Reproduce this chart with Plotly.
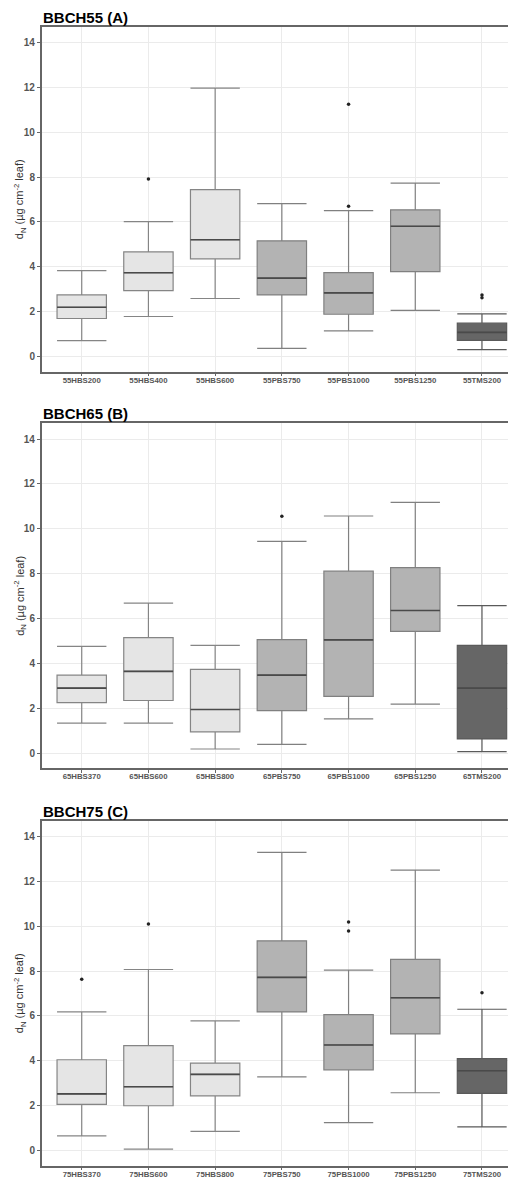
import plotly.graph_objects as go

# The page body adds an 8px margin, so the figure is drawn 8px smaller and
# all page-pixel positions are shifted by 8.
OFF = 8
W, H = 516 - OFF, 1178 - OFF

# ---------------- data ----------------
panel_titles = ["BBCH55 (A)", "BBCH65 (B)", "BBCH75 (C)"]

cats_A = ["55HBS200", "55HBS400", "55HBS600", "55PBS750", "55PBS1000", "55PBS1250", "55TMS200"]
q1_A = [1.70, 2.94, 4.36, 2.75, 1.89, 3.79, 0.73]
med_A = [2.20, 3.74, 5.21, 3.50, 2.84, 5.81, 1.08]
q3_A = [2.75, 4.67, 7.44, 5.16, 3.74, 6.54, 1.49]
lo_A = [0.71, 1.79, 2.59, 0.37, 1.15, 2.06, 0.31]
hi_A = [3.83, 6.02, 11.96, 6.82, 6.51, 7.73, 1.91]
out_x_A = ["55HBS400", "55PBS1000", "55PBS1000", "55TMS200", "55TMS200"]
out_y_A = [7.91, 11.24, 6.70, 2.75, 2.62]

cats_B = ["65HBS370", "65HBS600", "65HBS800", "65PBS750", "65PBS1000", "65PBS1250", "65TMS200"]
q1_B = [2.26, 2.35, 0.95, 1.90, 2.53, 5.43, 0.64]
med_B = [2.90, 3.65, 1.95, 3.48, 5.05, 6.36, 2.90]
q3_B = [3.48, 5.15, 3.74, 5.06, 8.11, 8.27, 4.81]
lo_B = [1.34, 1.34, 0.19, 0.40, 1.53, 2.19, 0.07]
hi_B = [4.76, 6.69, 4.81, 9.44, 10.57, 11.18, 6.58]
out_x_B = ["65PBS750"]
out_y_B = [10.56]

cats_C = ["75HBS370", "75HBS600", "75HBS800", "75PBS750", "75PBS1000", "75PBS1250", "75TMS200"]
q1_C = [2.06, 2.00, 2.44, 6.18, 3.60, 5.20, 2.55]
med_C = [2.53, 2.85, 3.40, 7.72, 4.71, 6.81, 3.56]
q3_C = [4.05, 4.68, 3.90, 9.35, 6.06, 8.52, 4.10]
lo_C = [0.66, 0.07, 0.86, 3.29, 1.25, 2.58, 1.06]
hi_C = [6.18, 8.07, 5.78, 13.29, 8.04, 12.50, 6.30]
out_x_C = ["75HBS370", "75HBS600", "75PBS1000", "75PBS1000", "75TMS200"]
out_y_C = [7.64, 10.10, 10.19, 9.79, 7.03]

group_idx = {"HBS": [0, 1, 2], "PBS": [3, 4, 5], "TMS": [6]}
group_fill = {"HBS": "#e5e5e5", "PBS": "#b3b3b3", "TMS": "#666666"}
group_line = {"HBS": "#858585", "PBS": "#808080", "TMS": "#5a5a5a"}

y_ticks = [0, 2, 4, 6, 8, 10, 12, 14]

panels = [
    (cats_A, q1_A, med_A, q3_A, lo_A, hi_A, out_x_A, out_y_A),
    (cats_B, q1_B, med_B, q3_B, lo_B, hi_B, out_x_B, out_y_B),
    (cats_C, q1_C, med_C, q3_C, lo_C, hi_C, out_x_C, out_y_C),
]

# page-pixel layout of panels (top, bottom)
panel_px = [(26.7, 371.7), (423.3, 768.3), (820.7, 1165.7)]
x_left_px = 41.7
FONT = "Liberation Sans, Arial, sans-serif"

fig = go.Figure()
layout = dict(
    width=W, height=H,
    margin=dict(l=0, r=0, t=0, b=0),
    paper_bgcolor="white", plot_bgcolor="white",
    showlegend=False,
    font=dict(family=FONT),
)
annotations = []

for i, (cats, q1, med, q3, lo, hi, ox, oy) in enumerate(panels):
    n = i + 1
    xa = "x" if n == 1 else f"x{n}"
    ya = "y" if n == 1 else f"y{n}"
    for g, idx in group_idx.items():
        fig.add_trace(go.Box(
            x=[cats[k] for k in idx],
            q1=[q1[k] for k in idx],
            median=[med[k] for k in idx],
            q3=[q3[k] for k in idx],
            lowerfence=[lo[k] for k in idx],
            upperfence=[hi[k] for k in idx],
            fillcolor=group_fill[g],
            line=dict(color=group_line[g], width=1.2),
            width=0.74,
            whiskerwidth=1.0,
            boxpoints=False,
            hoverinfo="skip",
            xaxis=xa, yaxis=ya,
        ))
    # darker median lines (flat box drawn at the median)
    fig.add_trace(go.Box(
        x=cats, q1=med, median=med, q3=med, lowerfence=med, upperfence=med,
        fillcolor="rgba(0,0,0,0)",
        line=dict(color="#4a4a4a", width=1.6),
        width=0.74, whiskerwidth=0, boxpoints=False, hoverinfo="skip",
        xaxis=xa, yaxis=ya,
    ))
    fig.add_trace(go.Scatter(
        x=ox, y=oy, mode="markers",
        marker=dict(color="#222222", size=3.5),
        xaxis=xa, yaxis=ya, hoverinfo="skip",
    ))
    top, bot = panel_px[i]
    top -= OFF
    bot -= OFF
    dom = [1 - bot / H, 1 - top / H]
    xkey = "xaxis" if n == 1 else f"xaxis{n}"
    ykey = "yaxis" if n == 1 else f"yaxis{n}"
    layout[xkey] = dict(
        domain=[(x_left_px - OFF) / W, 1], anchor=ya,
        type="category", categoryorder="array", categoryarray=cats,
        range=[-0.6, 6.51],
        showgrid=True, gridcolor="#ebebeb", gridwidth=1,
        showline=True, linecolor="#666666", linewidth=1.5, mirror=True,
        ticks="outside", ticklen=3, tickcolor="#666666",
        ticklabelstandoff=-3,
        tickfont=dict(size=7.8, color="#555555", family=FONT, weight="bold"),
        zeroline=False, automargin=False, fixedrange=True,
    )
    layout[ykey] = dict(
        domain=dom, anchor=xa,
        range=[-0.67, 14.7],
        tickvals=y_ticks,
        showgrid=True, gridcolor="#ebebeb", gridwidth=1,
        showline=True, linecolor="#666666", linewidth=1.5,
        ticks="outside", ticklen=3, tickcolor="#666666",
        tickfont=dict(size=10, color="#555555", family=FONT, weight="bold"),
        zeroline=False, automargin=False, fixedrange=True,
    )
    annotations.append(dict(
        text=f"<b>{panel_titles[i]}</b>", x=(x_left_px - OFF - 1) / W, xref="paper", xanchor="left",
        y=1 - (top + 1) / H, yref="paper", yanchor="bottom", showarrow=False,
        font=dict(size=15, color="black", family=FONT),
    ))
    annotations.append(dict(
        text="d<sub>N</sub> (µg cm<sup>-2</sup> leaf)",
        x=(20 - OFF) / W, xref="paper", xanchor="center",
        y=1 - (top + bot) / 2 / H, yref="paper", yanchor="middle",
        textangle=-90, showarrow=False,
        font=dict(size=11, color="#333333", family=FONT),
    ))

layout["annotations"] = annotations
fig.update_layout(**layout)
fig.write_html("out.html")
